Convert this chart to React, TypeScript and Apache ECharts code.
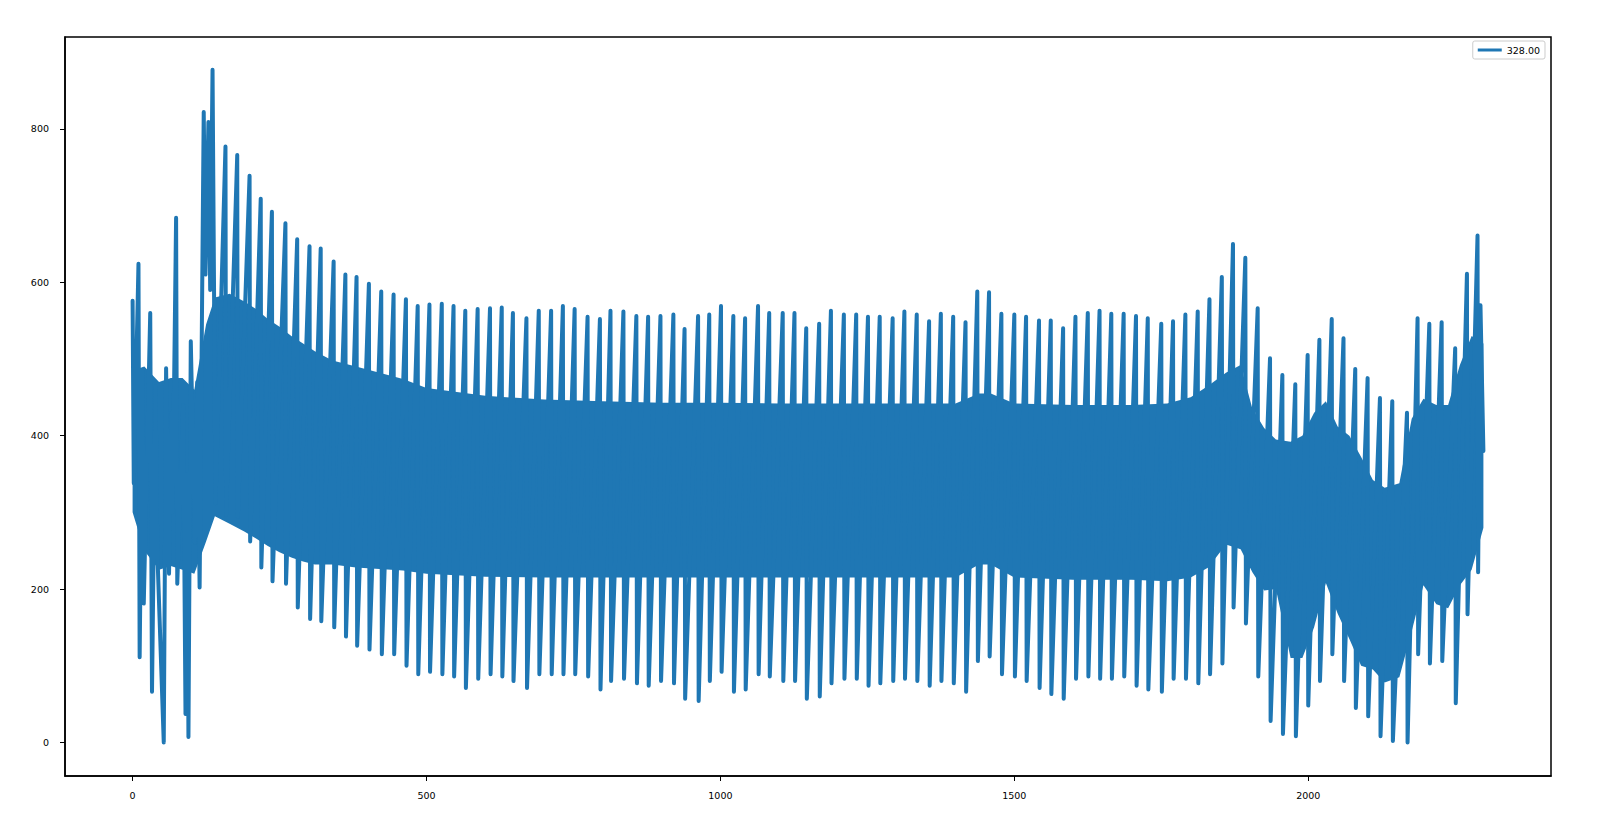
import React, { useEffect, useRef } from "react";
import * as echarts from "echarts";

// Early, irregular part: turning points (sample index, value) in time order
const earlyIndex = [0, 2, 10, 12, 17, 19, 30, 33, 39, 42, 53, 57, 62, 66, 68, 74, 76, 86, 90, 93, 95, 99, 106, 110, 114, 121, 124, 129, 132, 136, 141];
const earlyValue = [576, 338, 624, 111, 486, 181, 560, 66, 464, 250, 0, 488, 220, 430, 300, 684, 207, 440, 37, 350, 7, 523, 260, 470, 202, 822, 610, 809, 590, 877, 312];

// Regular daily spikes: sample index of each spike, its peak and its trough
const cycleIndex = [158, 178, 199, 218, 237, 260, 280, 301, 320, 342, 362, 381, 402, 423, 444, 465, 485, 505, 526, 546, 566, 587, 608, 628, 647, 670, 691, 712, 732, 752, 774, 795, 813, 835, 857, 877, 898, 920, 939, 962, 981, 1001, 1022, 1042, 1064, 1083, 1106, 1126, 1146, 1168, 1188, 1210, 1231, 1251, 1271, 1293, 1313, 1334, 1355, 1375, 1396, 1417, 1437, 1457, 1478, 1500, 1520, 1542, 1562, 1583, 1604, 1625, 1645, 1665, 1686, 1707, 1727, 1750, 1770, 1791, 1812, 1832, 1853, 1872, 1893, 1914, 1935, 1956, 1978, 1999, 2019, 2040, 2060, 2080, 2101, 2122, 2143, 2168, 2186, 2206, 2227, 2250, 2270, 2288];
const cyclePeak = [777, 766, 739, 709, 692, 677, 656, 647, 644, 627, 610, 607, 598, 588, 584, 578, 569, 571, 572, 569, 563, 565, 566, 567, 560, 553, 563, 563, 569, 565, 555, 552, 563, 562, 556, 555, 556, 558, 539, 556, 558, 569, 556, 553, 569, 560, 560, 560, 540, 546, 563, 558, 558, 555, 555, 553, 562, 558, 549, 559, 555, 548, 588, 587, 559, 558, 555, 550, 550, 540, 555, 560, 563, 559, 559, 556, 553, 546, 549, 558, 562, 578, 607, 650, 632, 566, 501, 479, 467, 505, 525, 552, 527, 487, 475, 449, 445, 430, 553, 546, 548, 514, 611, 661];
const cycleTrough = [297, 294, 262, 228, 210, 207, 176, 161, 158, 150, 138, 126, 121, 115, 115, 100, 89, 92, 89, 86, 71, 83, 89, 86, 80, 71, 89, 89, 89, 89, 86, 69, 80, 83, 77, 74, 80, 77, 57, 54, 80, 92, 66, 69, 89, 86, 80, 80, 57, 60, 77, 83, 83, 74, 77, 80, 83, 80, 74, 80, 77, 66, 106, 112, 89, 86, 80, 71, 63, 57, 83, 86, 83, 83, 86, 74, 69, 66, 83, 83, 77, 89, 103, 176, 155, 86, 28, 11, 8, 48, 80, 115, 80, 45, 34, 8, 2, 0, 115, 103, 106, 51, 167, 222];

// Last samples
const tailIndex = [2293, 2298];
const tailValue = [570, 380];

// Densely over-plotted core of the signal (upper and lower edge of the solid band)
const bandX = [0, 20, 45, 65, 85, 105, 125, 140, 165, 190, 210, 230, 250, 270, 290, 310, 340, 380, 420, 460, 500, 600, 700, 800, 900, 1000, 1100, 1200, 1300, 1400, 1440, 1460, 1500, 1600, 1700, 1760, 1800, 1830, 1860, 1885, 1905, 1925, 1945, 1970, 1990, 2010, 2030, 2050, 2070, 2090, 2110, 2130, 2155, 2176, 2196, 2218, 2238, 2258, 2278, 2298];
const bandHi = [485, 490, 470, 475, 475, 460, 545, 580, 585, 575, 565, 552, 542, 530, 520, 510, 498, 490, 482, 474, 462, 452, 447, 445, 443, 443, 442, 442, 442, 442, 455, 455, 442, 440, 440, 442, 450, 465, 482, 492, 435, 410, 395, 392, 400, 430, 445, 412, 400, 372, 342, 332, 338, 422, 448, 440, 440, 492, 530, 520];
const bandLo = [300, 250, 225, 230, 225, 220, 262, 295, 285, 275, 266, 256, 248, 241, 236, 232, 232, 228, 226, 224, 220, 216, 215, 215, 215, 215, 215, 215, 215, 215, 232, 232, 215, 212, 212, 210, 215, 228, 258, 252, 222, 198, 200, 110, 110, 150, 208, 168, 135, 100, 95, 78, 85, 145, 205, 180, 175, 205, 225, 280];

const xTicks = [0, 500, 1000, 1500, 2000];
const yTicks = [0, 200, 400, 600, 800];
const seriesName = "328.00";

const COLOR = "#1f77b4";
const FONT = "DejaVu Sans";

function buildLine(): number[][] {
  const pts: number[][] = [];
  for (let i = 0; i < earlyIndex.length; i++) pts.push([earlyIndex[i], earlyValue[i]]);
  for (let i = 0; i < cycleIndex.length; i++) {
    pts.push([cycleIndex[i], cyclePeak[i]]);
    pts.push([cycleIndex[i] + 1, cycleTrough[i]]);
  }
  for (let i = 0; i < tailIndex.length; i++) pts.push([tailIndex[i], tailValue[i]]);
  return pts;
}

export default function App() {
  const ref = useRef<HTMLDivElement>(null);
  useEffect(() => {
    if (!ref.current) return;
    const chart = echarts.init(ref.current, null, { renderer: "svg" });
    const axisText = { fontFamily: FONT, fontSize: 9.5, color: "#000" };
    chart.setOption({
      animation: false,
      backgroundColor: "#fff",
      grid: {
        left: 65,
        right: 56,
        top: 37,
        bottom: 52,
        show: true,
        borderColor: "#000",
        borderWidth: 1.5,
        backgroundColor: "transparent",
      },
      legend: {
        data: [{ name: seriesName, icon: "rect" }],
        right: 62,
        top: 41,
        padding: [4, 5],
        itemWidth: 24,
        itemHeight: 3,
        borderColor: "#cccccc",
        borderWidth: 1,
        borderRadius: 2,
        backgroundColor: "rgba(255,255,255,0.8)",
        textStyle: { ...axisText },
      },
      xAxis: {
        type: "value",
        min: -115,
        max: 2413,
        splitLine: { show: false },
        axisLine: { show: true, onZero: false, lineStyle: { color: "#000", width: 1.5 } },
        axisTick: { show: true, inside: false, length: 5, lineStyle: { color: "#000", width: 1 }, customValues: xTicks },
        axisLabel: { ...axisText, margin: 14, customValues: xTicks, formatter: (v: number) => String(v) },
      },
      yAxis: {
        type: "value",
        min: -43.8,
        max: 919.8,
        splitLine: { show: false },
        axisLine: { show: true, onZero: false, lineStyle: { color: "#000", width: 1.5 } },
        axisTick: { show: true, inside: false, length: 5, lineStyle: { color: "#000", width: 1 }, customValues: yTicks },
        axisLabel: { ...axisText, margin: 16, customValues: yTicks, formatter: (v: number) => String(v) },
      },
      series: [
        {
          type: "custom",
          silent: true,
          z: 2,
          clip: true,
          data: [[bandX[0], bandLo[0]]],
          encode: { x: 0, y: 1 },
          renderItem: (_params: any, api: any) => {
            const pts: number[][] = [];
            for (let i = 0; i < bandX.length; i++) pts.push(api.coord([bandX[i], bandHi[i]]));
            for (let i = bandX.length - 1; i >= 0; i--) pts.push(api.coord([bandX[i], bandLo[i]]));
            return { type: "polygon", shape: { points: pts }, style: { fill: COLOR } };
          },
        },
        {
          name: seriesName,
          type: "line",
          z: 3,
          data: buildLine(),
          showSymbol: false,
          symbol: "none",
          color: COLOR,
          lineStyle: { color: COLOR, width: 4, join: "round", cap: "round" },
          clip: true,
        },
      ],
    });
    return () => chart.dispose();
  }, []);
  return <div ref={ref} style={{ position: "fixed", left: 0, top: 0, width: 1607, height: 828 }} />;
}
